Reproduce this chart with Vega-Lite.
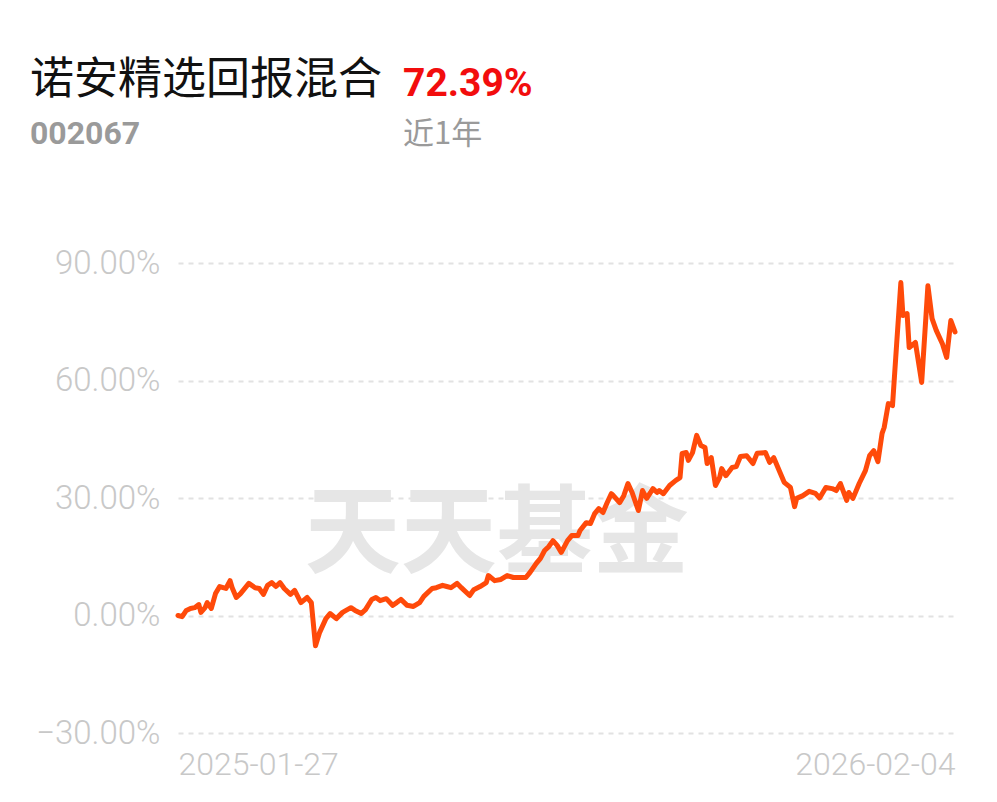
{
  "$schema": "https://vega.github.io/schema/vega-lite/v6.json",
  "background": "white",
  "padding": {"left": 30, "top": 59, "right": 5, "bottom": 5},
  "bounds": "flush",
  "spacing": 105,
  "config": {"view": {"stroke": null}},
  "vconcat": [
    {
      "bounds": "flush",
      "spacing": 0,
      "hconcat": [
        {
          "width": 225,
          "height": 1,
          "data": {"values": []},
          "mark": "point",
          "encoding": {},
          "title": {
            "text": "诺安精选回报混合",
            "subtitle": "002067",
            "anchor": "start",
            "frame": "group",
            "dx": -148,
            "font": "Noto Sans CJK SC",
            "fontSize": 44,
            "fontWeight": "normal",
            "color": "#111111",
            "subtitleFont": "Roboto",
            "subtitleFontSize": 32,
            "subtitleFontWeight": "bold",
            "subtitleColor": "#9a9a9a",
            "subtitlePadding": 16,
            "offset": 8
          }
        },
        {
          "width": 500,
          "height": 1,
          "data": {"values": []},
          "mark": "point",
          "encoding": {},
          "title": {
            "text": "72.39%",
            "subtitle": "近1年",
            "anchor": "start",
            "frame": "group",
            "font": "Roboto",
            "fontSize": 39,
            "fontWeight": "bold",
            "color": "#f20d0d",
            "subtitleFont": "Noto Sans CJK SC",
            "subtitleFontSize": 31,
            "subtitleFontWeight": "normal",
            "subtitleColor": "#9a9a9a",
            "subtitlePadding": 16,
            "offset": 8
          }
        }
      ]
    },
    {
      "width": 777,
      "height": 470,
      "layer": [
        {
          "data": {"values": [{"label": "天天基金"}]},
          "mark": {"type": "text", "font": "Noto Sans CJK SC", "fontWeight": "bold", "fontSize": 96, "color": "#e6e6e6", "align": "center", "baseline": "middle"},
          "encoding": {
            "x": {"datum": {"year": 2025, "month": 6, "date": 29, "utc": true}, "type": "temporal"},
            "y": {"datum": 20.4, "type": "quantitative"},
            "text": {"field": "label"}
          }
        },
        {
          "data": {"values": [
            {"date": "2025-01-27", "pct": 0},
            {"date": "2025-01-29", "pct": -0.3},
            {"date": "2025-01-31", "pct": 1.3},
            {"date": "2025-02-02", "pct": 1.8},
            {"date": "2025-02-04", "pct": 2.0},
            {"date": "2025-02-06", "pct": 2.8},
            {"date": "2025-02-07", "pct": 0.8},
            {"date": "2025-02-09", "pct": 2.0},
            {"date": "2025-02-10", "pct": 3.3},
            {"date": "2025-02-12", "pct": 1.8},
            {"date": "2025-02-14", "pct": 5.6},
            {"date": "2025-02-16", "pct": 7.4},
            {"date": "2025-02-19", "pct": 6.9},
            {"date": "2025-02-21", "pct": 8.9},
            {"date": "2025-02-22", "pct": 7.1},
            {"date": "2025-02-24", "pct": 4.6},
            {"date": "2025-02-26", "pct": 5.6},
            {"date": "2025-03-02", "pct": 8.2},
            {"date": "2025-03-05", "pct": 7.1},
            {"date": "2025-03-07", "pct": 6.9},
            {"date": "2025-03-09", "pct": 5.4},
            {"date": "2025-03-11", "pct": 7.7},
            {"date": "2025-03-13", "pct": 8.4},
            {"date": "2025-03-15", "pct": 7.4},
            {"date": "2025-03-17", "pct": 8.4},
            {"date": "2025-03-19", "pct": 6.9},
            {"date": "2025-03-22", "pct": 5.4},
            {"date": "2025-03-24", "pct": 6.4},
            {"date": "2025-03-27", "pct": 3.3},
            {"date": "2025-03-30", "pct": 4.6},
            {"date": "2025-04-01", "pct": 3.3},
            {"date": "2025-04-03", "pct": -7.7},
            {"date": "2025-04-05", "pct": -4.3},
            {"date": "2025-04-08", "pct": -0.8},
            {"date": "2025-04-10", "pct": 0.5},
            {"date": "2025-04-13", "pct": -0.8},
            {"date": "2025-04-16", "pct": 0.8},
            {"date": "2025-04-20", "pct": 2.0},
            {"date": "2025-04-22", "pct": 1.3},
            {"date": "2025-04-25", "pct": 0.5},
            {"date": "2025-04-27", "pct": 1.5},
            {"date": "2025-04-30", "pct": 4.1},
            {"date": "2025-05-02", "pct": 4.6},
            {"date": "2025-05-04", "pct": 3.8},
            {"date": "2025-05-07", "pct": 4.3},
            {"date": "2025-05-10", "pct": 2.6},
            {"date": "2025-05-12", "pct": 3.3},
            {"date": "2025-05-14", "pct": 4.1},
            {"date": "2025-05-17", "pct": 2.6},
            {"date": "2025-05-20", "pct": 2.3},
            {"date": "2025-05-23", "pct": 3.3},
            {"date": "2025-05-25", "pct": 4.9},
            {"date": "2025-05-27", "pct": 5.9},
            {"date": "2025-05-29", "pct": 6.9},
            {"date": "2025-05-31", "pct": 7.1},
            {"date": "2025-06-03", "pct": 7.7},
            {"date": "2025-06-05", "pct": 7.4},
            {"date": "2025-06-07", "pct": 7.1},
            {"date": "2025-06-10", "pct": 8.2},
            {"date": "2025-06-12", "pct": 7.1},
            {"date": "2025-06-16", "pct": 5.1},
            {"date": "2025-06-18", "pct": 6.6},
            {"date": "2025-06-21", "pct": 7.4},
            {"date": "2025-06-24", "pct": 8.4},
            {"date": "2025-06-25", "pct": 10.2},
            {"date": "2025-06-28", "pct": 8.9},
            {"date": "2025-07-01", "pct": 9.2},
            {"date": "2025-07-04", "pct": 10.2},
            {"date": "2025-07-07", "pct": 9.7},
            {"date": "2025-07-11", "pct": 9.7},
            {"date": "2025-07-13", "pct": 9.7},
            {"date": "2025-07-15", "pct": 11.0},
            {"date": "2025-07-18", "pct": 13.3},
            {"date": "2025-07-20", "pct": 14.6},
            {"date": "2025-07-22", "pct": 16.6},
            {"date": "2025-07-24", "pct": 17.6},
            {"date": "2025-07-26", "pct": 19.1},
            {"date": "2025-07-28", "pct": 17.9},
            {"date": "2025-07-30", "pct": 16.1},
            {"date": "2025-08-02", "pct": 19.1},
            {"date": "2025-08-04", "pct": 20.4},
            {"date": "2025-08-07", "pct": 20.4},
            {"date": "2025-08-08", "pct": 21.7},
            {"date": "2025-08-11", "pct": 23.7},
            {"date": "2025-08-13", "pct": 23.5},
            {"date": "2025-08-15", "pct": 26.0},
            {"date": "2025-08-17", "pct": 27.3},
            {"date": "2025-08-19", "pct": 26.3},
            {"date": "2025-08-21", "pct": 28.8},
            {"date": "2025-08-23", "pct": 31.1},
            {"date": "2025-08-24", "pct": 30.6},
            {"date": "2025-08-27", "pct": 28.8},
            {"date": "2025-08-29", "pct": 30.6},
            {"date": "2025-08-31", "pct": 33.7},
            {"date": "2025-09-02", "pct": 31.4},
            {"date": "2025-09-05", "pct": 26.8},
            {"date": "2025-09-07", "pct": 31.9},
            {"date": "2025-09-09", "pct": 29.9},
            {"date": "2025-09-12", "pct": 32.4},
            {"date": "2025-09-14", "pct": 31.4},
            {"date": "2025-09-15", "pct": 31.9},
            {"date": "2025-09-17", "pct": 31.1},
            {"date": "2025-09-20", "pct": 33.2},
            {"date": "2025-09-23", "pct": 34.5},
            {"date": "2025-09-25", "pct": 35.2},
            {"date": "2025-09-26", "pct": 41.4},
            {"date": "2025-09-28", "pct": 41.6},
            {"date": "2025-09-29", "pct": 39.6},
            {"date": "2025-10-01", "pct": 41.6},
            {"date": "2025-10-03", "pct": 46.0},
            {"date": "2025-10-05", "pct": 43.4},
            {"date": "2025-10-07", "pct": 42.9},
            {"date": "2025-10-08", "pct": 38.8},
            {"date": "2025-10-10", "pct": 40.3},
            {"date": "2025-10-12", "pct": 33.2},
            {"date": "2025-10-14", "pct": 35.2},
            {"date": "2025-10-15", "pct": 37.5},
            {"date": "2025-10-17", "pct": 35.7},
            {"date": "2025-10-20", "pct": 37.8},
            {"date": "2025-10-22", "pct": 38.0},
            {"date": "2025-10-24", "pct": 40.6},
            {"date": "2025-10-27", "pct": 40.8},
            {"date": "2025-10-30", "pct": 38.8},
            {"date": "2025-11-01", "pct": 41.4},
            {"date": "2025-11-05", "pct": 41.6},
            {"date": "2025-11-07", "pct": 39.1},
            {"date": "2025-11-09", "pct": 40.3},
            {"date": "2025-11-12", "pct": 36.5},
            {"date": "2025-11-14", "pct": 34.0},
            {"date": "2025-11-17", "pct": 32.7},
            {"date": "2025-11-19", "pct": 27.8},
            {"date": "2025-11-20", "pct": 29.9},
            {"date": "2025-11-23", "pct": 30.6},
            {"date": "2025-11-26", "pct": 31.7},
            {"date": "2025-11-29", "pct": 31.2},
            {"date": "2025-12-01", "pct": 30.0},
            {"date": "2025-12-04", "pct": 32.7},
            {"date": "2025-12-07", "pct": 32.4},
            {"date": "2025-12-09", "pct": 31.9},
            {"date": "2025-12-11", "pct": 33.7},
            {"date": "2025-12-14", "pct": 29.4},
            {"date": "2025-12-15", "pct": 31.4},
            {"date": "2025-12-17", "pct": 29.9},
            {"date": "2025-12-20", "pct": 33.7},
            {"date": "2025-12-23", "pct": 37.0},
            {"date": "2025-12-25", "pct": 40.8},
            {"date": "2025-12-27", "pct": 42.1},
            {"date": "2025-12-29", "pct": 39.3},
            {"date": "2025-12-31", "pct": 46.5},
            {"date": "2026-01-01", "pct": 48.0},
            {"date": "2026-01-03", "pct": 54.1},
            {"date": "2026-01-05", "pct": 53.6},
            {"date": "2026-01-07", "pct": 69.4},
            {"date": "2026-01-09", "pct": 85.0},
            {"date": "2026-01-10", "pct": 76.6},
            {"date": "2026-01-12", "pct": 77.1},
            {"date": "2026-01-13", "pct": 68.4},
            {"date": "2026-01-16", "pct": 69.7},
            {"date": "2026-01-19", "pct": 59.5},
            {"date": "2026-01-22", "pct": 84.2},
            {"date": "2026-01-24", "pct": 75.8},
            {"date": "2026-01-26", "pct": 72.8},
            {"date": "2026-01-29", "pct": 69.3},
            {"date": "2026-01-31", "pct": 65.9},
            {"date": "2026-02-02", "pct": 75.3},
            {"date": "2026-02-04", "pct": 72.39}
          ]},
          "mark": {"type": "line", "color": "#ff4a0a", "strokeWidth": 5, "strokeJoin": "round", "strokeCap": "round"},
          "encoding": {
            "x": {
              "field": "date",
              "type": "temporal",
              "scale": {"type": "utc"},
              "axis": {
                "title": null,
                "domain": false,
                "ticks": false,
                "grid": false,
                "values": [
                  {"year": 2025, "month": 1, "date": 27, "utc": true},
                  {"year": 2026, "month": 2, "date": 4, "utc": true}
                ],
                "format": "%Y-%m-%d",
                "labelFlush": true,
                "labelFont": "Roboto",
                "labelFontWeight": 300,
                "labelFontSize": 32,
                "labelColor": "#c8c8c8",
                "labelPadding": 16
              }
            },
            "y": {
              "field": "pct",
              "type": "quantitative",
              "scale": {"domain": [-30, 90], "nice": false, "zero": false},
              "axis": {
                "title": null,
                "domain": false,
                "ticks": false,
                "values": [-30, 0, 30, 60, 90],
                "labelExpr": "format(datum.value, '.2f') + '%'",
                "labelFont": "Roboto",
                "labelFontWeight": 300,
                "labelFontSize": 33,
                "labelColor": "#c8c8c8",
                "labelPadding": 18,
                "grid": true,
                "gridColor": "#e2e2e2",
                "gridWidth": 2,
                "gridDash": [5, 5]
              }
            }
          }
        }
      ]
    }
  ]
}
